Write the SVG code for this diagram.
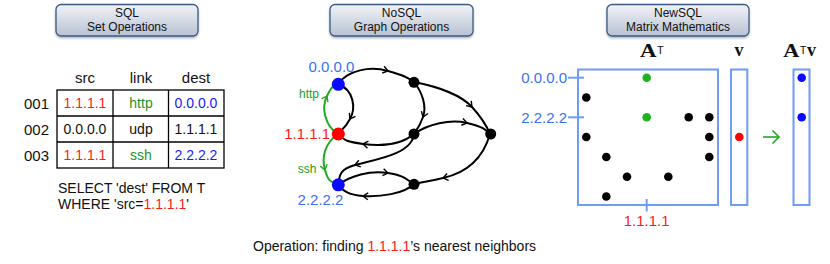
<svg xmlns="http://www.w3.org/2000/svg" width="830" height="264" viewBox="0 0 830 264">
<style>
text{font-family:"Liberation Sans",Arial,sans-serif;}
.hdr{font-size:12px;fill:#111;text-anchor:middle;}
.box{stroke:#3b5a85;stroke-width:1.3;fill:url(#g);}
.th{font-size:15px;fill:#111;text-anchor:middle;}
.td{font-size:14px;text-anchor:middle;}
.red{fill:#ff1a1a;}
.grn{fill:#1f931f;}
.blu{fill:#1a1aff;}
.lblu{fill:#3a70f2;}
.blk{fill:#111;}
.edge{fill:none;stroke:#000;stroke-width:2;marker-mid:url(#ah);}
.gedge{fill:none;stroke:#1faa1f;stroke-width:2;marker-mid:url(#ahg);}
.mat{fill:none;stroke:#6f9cf5;stroke-width:2;}
.tick{stroke:#6f9cf5;stroke-width:2;}
.math{font-family:"Liberation Serif","Times New Roman",serif;font-weight:bold;font-size:18px;fill:#111;}
.sup{font-size:11px;fill:#111;}
</style>
<defs>
<linearGradient id="g" x1="0" y1="0" x2="0" y2="1">
<stop offset="0" stop-color="#f1f3f8"/>
<stop offset="1" stop-color="#b8c2d3"/>
</linearGradient>
<filter id="sh" x="-10%" y="-20%" width="120%" height="150%">
<feDropShadow dx="0" dy="1.5" stdDeviation="1" flood-color="#000" flood-opacity="0.3"/>
</filter>
<marker id="ah" viewBox="-7 -5 9 10" markerWidth="9" markerHeight="10" refX="0" refY="0" orient="auto" markerUnits="userSpaceOnUse">
<path d="M-5,-3.5 L0,0 L-5,3.5" fill="none" stroke="#000" stroke-width="1.4"/>
</marker>
<marker id="ahg" viewBox="-7 -5 9 10" markerWidth="9" markerHeight="10" refX="0" refY="0" orient="auto" markerUnits="userSpaceOnUse">
<path d="M-5,-3.5 L0,0 L-5,3.5" fill="none" stroke="#1faa1f" stroke-width="1.4"/>
</marker>
</defs>

<!-- header boxes -->
<g id="hdr-sql">
<rect class="box" x="56" y="4.5" width="142" height="31.5" rx="5" filter="url(#sh)"/>
<text class="hdr" x="127" y="17">SQL</text>
<text class="hdr" x="127" y="30.5">Set Operations</text>
</g>
<g id="hdr-nosql">
<rect class="box" x="330" y="4.5" width="143" height="31.5" rx="5" filter="url(#sh)"/>
<text class="hdr" x="401.5" y="17">NoSQL</text>
<text class="hdr" x="401.5" y="30.5">Graph Operations</text>
</g>
<g id="hdr-newsql">
<rect class="box" x="607" y="4.5" width="142" height="31.5" rx="5" filter="url(#sh)"/>
<text class="hdr" x="678" y="17">NewSQL</text>
<text class="hdr" x="678" y="30.5">Matrix Mathematics</text>
</g>

<!-- SQL table -->
<g id="sql-table">
<text class="th" x="85" y="83">src</text>
<text class="th" x="141" y="83">link</text>
<text class="th" x="196" y="83">dest</text>
<rect x="57" y="90" width="167" height="78" fill="none" stroke="#000" stroke-width="1.3"/>
<line x1="113" y1="90" x2="113" y2="168" stroke="#000" stroke-width="1.3"/>
<line x1="168.5" y1="90" x2="168.5" y2="168" stroke="#000" stroke-width="1.3"/>
<line x1="57" y1="116" x2="224" y2="116" stroke="#000" stroke-width="1.3"/>
<line x1="57" y1="142" x2="224" y2="142" stroke="#000" stroke-width="1.3"/>
<text class="th" x="36.5" y="109">001</text>
<text class="th" x="36.5" y="135">002</text>
<text class="th" x="36.5" y="161">003</text>
<text class="td red" x="85" y="108">1.1.1.1</text>
<text class="td grn" x="141" y="108">http</text>
<text class="td blu" x="196" y="108">0.0.0.0</text>
<text class="td blk" x="85" y="134">0.0.0.0</text>
<text class="td blk" x="141" y="134">udp</text>
<text class="td blk" x="196" y="134">1.1.1.1</text>
<text class="td red" x="85" y="160">1.1.1.1</text>
<text class="td grn" x="141" y="160">ssh</text>
<text class="td blu" x="196" y="160">2.2.2.2</text>
<text x="58" y="193" font-size="14" fill="#111">SELECT 'dest' FROM T</text>
<text x="58" y="208.5" font-size="14" fill="#111">WHERE 'src=<tspan fill="#ff1a1a">1.1.1.1</tspan>'</text>
</g>

<!-- graph connectors -->
<g id="connectors">
<path class="edge" d="M338,84 C348,70 370,66 388,71 S408,78 414,82"/>
<path class="edge" d="M338,84 C354,90 356,108 350,119 S341,130 338,134"/>
<path class="edge" d="M414,82 C422,92 427,106 423,117 S417,129 414,134"/>
<path class="edge" d="M414,82 C440,87 462,96 472,107 S486,124 490,134"/>
<path class="edge" d="M414,134 C428,124 450,119 467,123 S486,130 490,134"/>
<path class="edge" d="M414,134 C402,144 385,147 363,144 S345,139 338,134"/>
<path class="edge" d="M414,134 C412,155 372,160 355,165 S340,176 338,185"/>
<path class="edge" d="M338,185 C350,176 370,170 388,173 S405,179 414,184"/>
<path class="edge" d="M414,184 C404,194 380,197 363,196 S342,189 338,185"/>
<path class="edge" d="M490,134 C484,155 470,172 443,178 S422,182 414,184"/>
<path class="gedge" d="M338,134 C325,126 321,108 327,96 S333,87 338,84"/>
<path class="gedge" d="M338,134 C326,142 321,156 325,170 S332,181 338,185"/>
</g>

<!-- graph nodes -->
<g id="node-0000">
<circle cx="338.3" cy="84.3" r="6.5" fill="#0a0aff"/>
<text class="lblu" x="331.5" y="72" font-size="15" text-anchor="middle">0.0.0.0</text>
</g>
<g id="node-1111">
<circle cx="338.3" cy="134" r="6.5" fill="#ff0000"/>
<text class="red" x="330" y="139" font-size="15" text-anchor="end">1.1.1.1</text>
</g>
<g id="node-2222">
<circle cx="338.3" cy="184.8" r="6.5" fill="#0a0aff"/>
<text class="lblu" x="320.5" y="205" font-size="15" text-anchor="middle">2.2.2.2</text>
</g>
<g id="node-n1"><circle cx="414" cy="82.3" r="5.5" fill="#000"/></g>
<g id="node-n2"><circle cx="414" cy="134" r="5.5" fill="#000"/></g>
<g id="node-n3"><circle cx="490.7" cy="134" r="5.5" fill="#000"/></g>
<g id="node-n4"><circle cx="414" cy="184.3" r="5.5" fill="#000"/></g>
<g id="edge-labels">
<text x="309" y="98" font-size="12" text-anchor="middle" fill="#22a022">http</text>
<text x="307" y="173" font-size="12" text-anchor="middle" fill="#22a022">ssh</text>
</g>

<!-- matrix -->
<g id="matrix-AT">
<text class="math" x="640" y="57" textLength="16.5" lengthAdjust="spacingAndGlyphs">A</text>
<text class="sup" x="657" y="53.5">T</text>
<rect class="mat" x="578" y="69.5" width="140" height="135.5"/>
<line class="tick" x1="568" y1="77.7" x2="584" y2="77.7"/>
<line class="tick" x1="568" y1="117.3" x2="584" y2="117.3"/>
<line class="tick" x1="646.7" y1="199" x2="646.7" y2="211.5"/>
<text class="lblu" x="567" y="82.5" font-size="15" text-anchor="end">0.0.0.0</text>
<text class="lblu" x="567" y="122.5" font-size="15" text-anchor="end">2.2.2.2</text>
<text class="red" x="646.7" y="226" font-size="15" text-anchor="middle">1.1.1.1</text>
<circle cx="646.7" cy="77.7" r="4.3" fill="#1fb21f"/>
<circle cx="646.7" cy="117.3" r="4.3" fill="#1fb21f"/>
<circle cx="586.3" cy="97.5" r="4.3" fill="#000"/>
<circle cx="688.7" cy="117.3" r="4.3" fill="#000"/>
<circle cx="709.3" cy="117.3" r="4.3" fill="#000"/>
<circle cx="586.3" cy="137" r="4.3" fill="#000"/>
<circle cx="709.3" cy="137" r="4.3" fill="#000"/>
<circle cx="606.3" cy="157" r="4.3" fill="#000"/>
<circle cx="709.3" cy="157" r="4.3" fill="#000"/>
<circle cx="627" cy="176.7" r="4.3" fill="#000"/>
<circle cx="668.3" cy="176.7" r="4.3" fill="#000"/>
<circle cx="606.3" cy="196.5" r="4.3" fill="#000"/>
</g>
<g id="vector-v">
<text class="math" x="739" y="56" text-anchor="middle">v</text>
<rect class="mat" x="731" y="69.5" width="16.3" height="135.5"/>
<circle cx="739.3" cy="137" r="4.3" fill="#ff0000"/>
</g>
<g id="arrow-result">
<line x1="763" y1="137" x2="779" y2="137" stroke="#1faa1f" stroke-width="1.6"/>
<path d="M772.5,130.5 L779,137 L772.5,143.5" fill="none" stroke="#1faa1f" stroke-width="1.6"/>
</g>
<g id="vector-ATv">
<text class="math" x="783.3" y="57" textLength="16" lengthAdjust="spacingAndGlyphs">A</text>
<text class="sup" x="799.8" y="53.5">T</text>
<text class="math" x="807" y="56">v</text>
<rect class="mat" x="793.5" y="69.5" width="16" height="135.5"/>
<circle cx="801.7" cy="77.7" r="4.3" fill="#0a0aff"/>
<circle cx="801.7" cy="117.3" r="4.3" fill="#0a0aff"/>
</g>

<g id="caption">
<text x="253" y="250.5" font-size="14" fill="#111">Operation: finding <tspan fill="#ff1a1a">1.1.1.1</tspan>’s nearest neighbors</text>
</g>
</svg>
